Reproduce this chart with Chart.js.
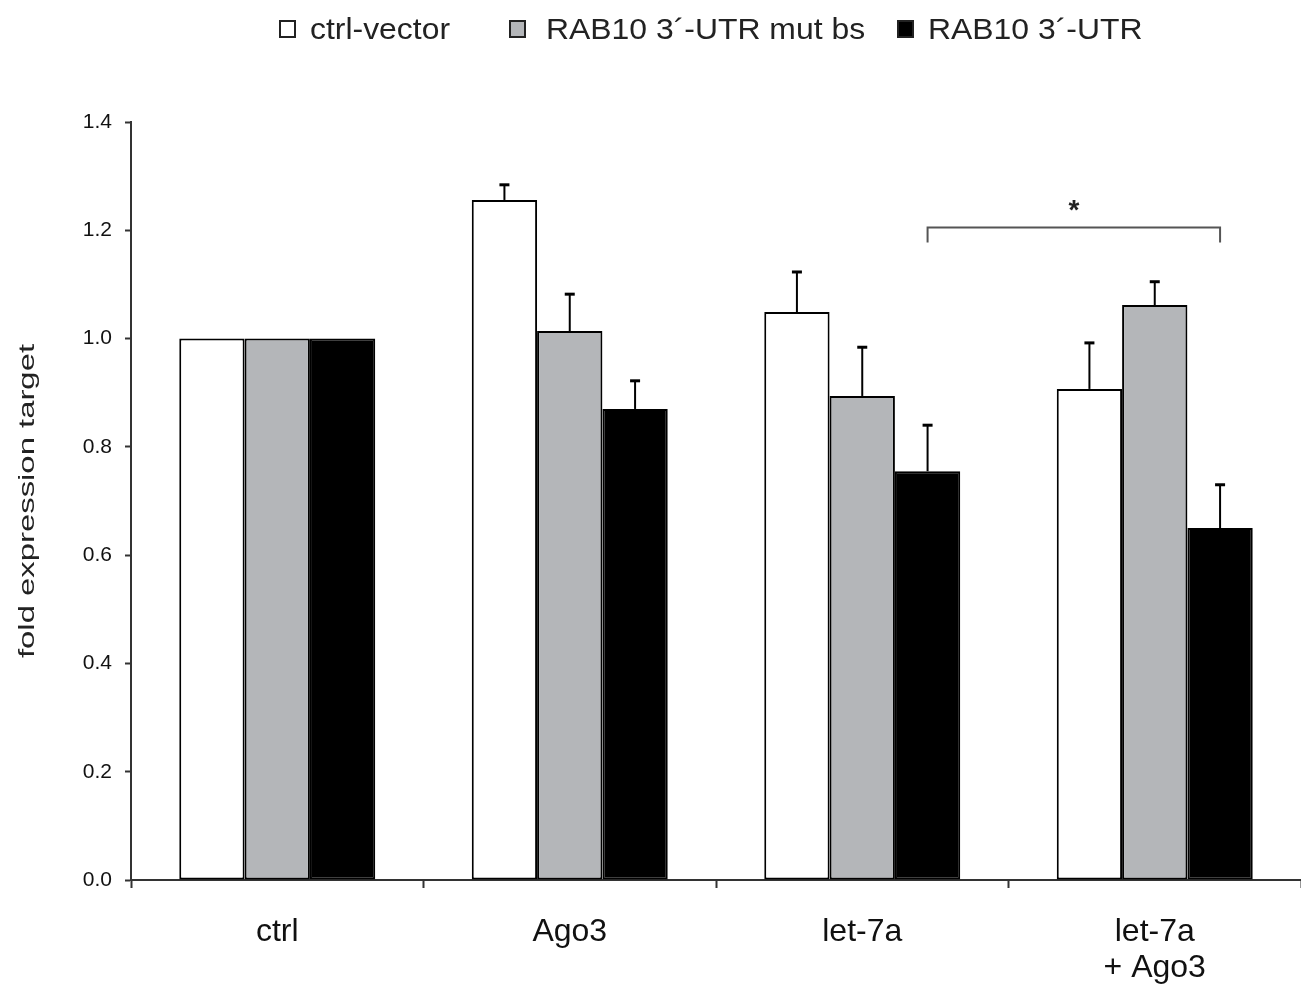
<!DOCTYPE html>
<html>
<head>
<meta charset="utf-8">
<script src="https://cdn.jsdelivr.net/npm/chart.js@4.4.1/dist/chart.umd.min.js"></script>
<style>
  html, body { margin: 0; padding: 0; background: #fff; }
  #wrap { width: 1301px; height: 987px; }
</style>
</head>
<body>
<div id="wrap"><canvas id="chart" width="1301" height="987"></canvas></div>
<script>
const categories = ['ctrl', 'Ago3', 'let-7a', ['let-7a', '+ Ago3']];
const seriesNames = ['ctrl-vector', 'RAB10 3\u00b4-UTR mut bs', 'RAB10 3\u00b4-UTR'];
const ctrlVector = [1.0, 1.256, 1.049, 0.907];
const mutBs = [1.0, 1.014, 0.894, 1.062];
const utr = [1.0, 0.870, 0.755, 0.650];
const ctrlVectorErr = [0, 0.028, 0.074, 0.085];
const mutBsErr = [0, 0.068, 0.090, 0.043];
const utrErr = [0, 0.052, 0.085, 0.080];
const yTicks = [0, 0.2, 0.4, 0.6, 0.8, 1.0, 1.2, 1.4];
const yTitle = 'fold expression target';

const colors = ['#ffffff', '#b4b6b9', '#000000'];
const errors = [ctrlVectorErr, mutBsErr, utrErr];
const FONT = '"Liberation Sans", Arial, sans-serif';

// upper error bars, significance bracket, axis title and the legend row
const extras = {
  id: 'extras',
  afterDatasetsDraw(chart) {
    const ctx = chart.ctx;
    const y = chart.scales.y;
    ctx.save();
    ctx.strokeStyle = '#000';
    chart.data.datasets.forEach((ds, i) => {
      chart.getDatasetMeta(i).data.forEach((bar, j) => {
        const err = errors[i][j];
        if (!err) return;
        const top = y.getPixelForValue(ds.data[j] + err);
        ctx.lineWidth = 2;
        ctx.beginPath();
        ctx.moveTo(bar.x, bar.y);
        ctx.lineTo(bar.x, top);
        ctx.stroke();
        ctx.lineWidth = 3;
        ctx.beginPath();
        ctx.moveTo(bar.x - 5, top);
        ctx.lineTo(bar.x + 5, top);
        ctx.stroke();
      });
    });

    // bracket between the let-7a and let-7a + Ago3 3'-UTR bars
    const meta = chart.getDatasetMeta(2);
    const x1 = meta.data[2].x;
    const x2 = meta.data[3].x;
    const by = y.getPixelForValue(1.205);
    ctx.strokeStyle = '#555';
    ctx.lineWidth = 2;
    ctx.beginPath();
    ctx.moveTo(x1, by + 15);
    ctx.lineTo(x1, by);
    ctx.lineTo(x2, by);
    ctx.lineTo(x2, by + 15);
    ctx.stroke();
    ctx.fillStyle = '#222';
    ctx.font = 'bold 28px ' + FONT;
    ctx.textAlign = 'center';
    ctx.textBaseline = 'middle';
    ctx.fillText('*', (x1 + x2) / 2, by - 16);

    // y axis title, stretched along its length
    ctx.save();
    ctx.translate(34, (chart.chartArea.top + chart.chartArea.bottom) / 2);
    ctx.rotate(-Math.PI / 2);
    ctx.scale(1.46, 1);
    ctx.font = '22.5px ' + FONT;
    ctx.textAlign = 'center';
    ctx.textBaseline = 'alphabetic';
    ctx.fillStyle = '#222';
    ctx.fillText(yTitle, 0, 0);
    ctx.restore();

    // legend
    const items = [
      { box: 280, text: 310 },
      { box: 510, text: 546 },
      { box: 898, text: 928 }
    ];
    items.forEach((it, i) => {
      ctx.fillStyle = colors[i];
      ctx.fillRect(it.box, 21, 15, 16);
      ctx.strokeStyle = '#222';
      ctx.lineWidth = 2;
      ctx.strokeRect(it.box, 21, 15, 16);
      ctx.save();
      ctx.translate(it.text, 39);
      ctx.scale(1.1, 1);
      ctx.font = '29px ' + FONT;
      ctx.textAlign = 'left';
      ctx.textBaseline = 'alphabetic';
      ctx.fillStyle = '#222';
      ctx.fillText(seriesNames[i], 0, 0);
      ctx.restore();
    });
    ctx.restore();
  }
};

new Chart(document.getElementById('chart'), {
  type: 'bar',
  data: {
    labels: categories,
    datasets: [ctrlVector, mutBs, utr].map((d, i) => ({
      label: seriesNames[i],
      data: d,
      backgroundColor: colors[i],
      borderColor: '#000',
      borderWidth: 2,
      borderSkipped: false,
      barPercentage: 1,
      categoryPercentage: 0.67
    }))
  },
  options: {
    responsive: false,
    animation: false,
    layout: { padding: { top: 122, right: 0, bottom: 0, left: 0 } },
    plugins: { legend: { display: false }, tooltip: { enabled: false } },
    scales: {
      x: {
        offset: true,
        grid: { offset: true, drawOnChartArea: false, tickLength: 8, tickWidth: 2, tickColor: '#333' },
        border: { color: '#333', width: 2 },
        ticks: { color: '#111', padding: 27, font: { family: FONT, size: 32, lineHeight: 1.1 } },
        afterFit(scale) { scale.height = 107; }
      },
      y: {
        min: 0,
        max: 1.4,
        afterBuildTicks(scale) { scale.ticks = yTicks.map(v => ({ value: v })); },
        grid: { drawOnChartArea: false, tickLength: 6, tickWidth: 2, tickColor: '#333' },
        border: { color: '#333', width: 2 },
        ticks: {
          color: '#111',
          padding: 13,
          font: { family: FONT, size: 21 },
          callback: v => v.toFixed(1)
        },
        afterFit(scale) { scale.width = 131; }
      }
    }
  },
  plugins: [extras]
});
</script>
</body>
</html>
